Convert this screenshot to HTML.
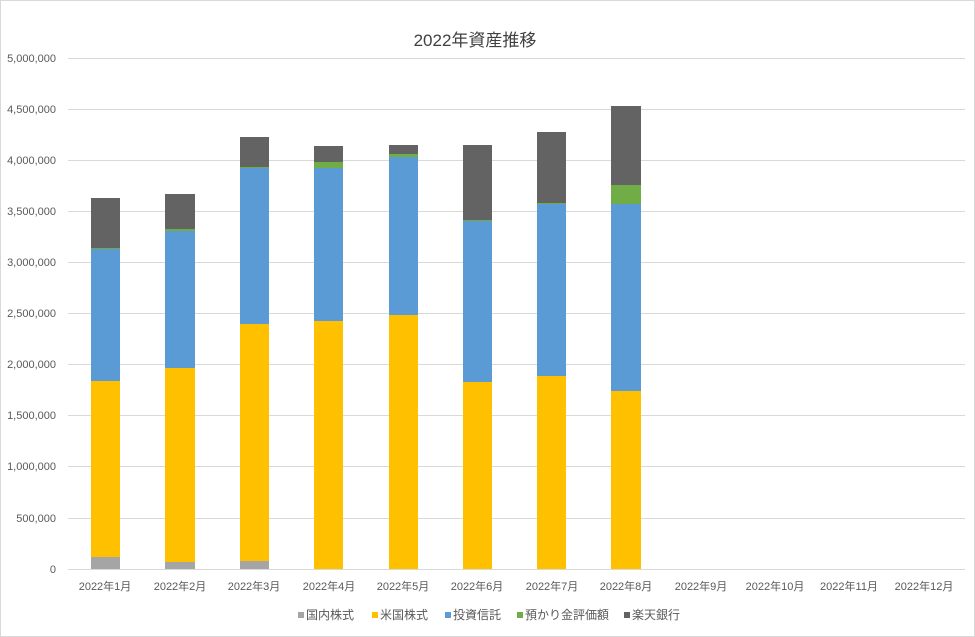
<!DOCTYPE html>
<html><head><meta charset="utf-8"><style>
body{margin:0;background:#fff;}
svg{display:block;font-family:"Liberation Sans","Noto Sans CJK JP",sans-serif;}
</style></head><body>
<svg width="975" height="637" viewBox="0 0 975 637">
<rect x="0.5" y="0.5" width="974" height="636" fill="#fff" stroke="#d9d9d9"/>
<text x="475" y="46" font-size="17" fill="#404040" text-anchor="middle">2022年資産推移</text>
<g stroke="#d9d9d9" stroke-width="1">
<line x1="68" x2="965" y1="58.5" y2="58.5"/><line x1="68" x2="965" y1="109.5" y2="109.5"/>
<line x1="68" x2="965" y1="160.5" y2="160.5"/><line x1="68" x2="965" y1="211.5" y2="211.5"/>
<line x1="68" x2="965" y1="262.5" y2="262.5"/><line x1="68" x2="965" y1="313.5" y2="313.5"/>
<line x1="68" x2="965" y1="364.5" y2="364.5"/><line x1="68" x2="965" y1="415.5" y2="415.5"/>
<line x1="68" x2="965" y1="466.5" y2="466.5"/><line x1="68" x2="965" y1="518.5" y2="518.5"/>
<line x1="68" x2="965" y1="569.5" y2="569.5"/>
</g>
<g font-size="11" fill="#595959" text-anchor="end">
<text x="56" y="62">5,000,000</text><text x="56" y="113">4,500,000</text><text x="56" y="164">4,000,000</text>
<text x="56" y="215">3,500,000</text><text x="56" y="266">3,000,000</text><text x="56" y="317">2,500,000</text>
<text x="56" y="368">2,000,000</text><text x="56" y="419">1,500,000</text><text x="56" y="470">1,000,000</text>
<text x="56" y="522">500,000</text><text x="56" y="573">0</text>
</g>
<g>
<!-- bar1 -->
<rect x="91" y="557" width="29" height="12" fill="#a5a5a5"/><rect x="91" y="381" width="29" height="176" fill="#ffc000"/><rect x="91" y="249" width="29" height="132" fill="#5b9bd5"/><rect x="91" y="248" width="29" height="1" fill="#70ad47"/><rect x="91" y="198" width="29" height="50" fill="#636363"/>
<!-- bar2 -->
<rect x="165" y="562" width="30" height="7" fill="#a5a5a5"/><rect x="165" y="368" width="30" height="194" fill="#ffc000"/><rect x="165" y="231" width="30" height="137" fill="#5b9bd5"/><rect x="165" y="229" width="30" height="2" fill="#70ad47"/><rect x="165" y="194" width="30" height="35" fill="#636363"/>
<!-- bar3 -->
<rect x="240" y="561" width="29" height="8" fill="#a5a5a5"/><rect x="240" y="324" width="29" height="237" fill="#ffc000"/><rect x="240" y="168" width="29" height="156" fill="#5b9bd5"/><rect x="240" y="167" width="29" height="1" fill="#70ad47"/><rect x="240" y="137" width="29" height="30" fill="#636363"/>
<!-- bar4 -->
<rect x="314" y="321" width="29" height="248" fill="#ffc000"/><rect x="314" y="168" width="29" height="153" fill="#5b9bd5"/><rect x="314" y="162" width="29" height="6" fill="#70ad47"/><rect x="314" y="146" width="29" height="16" fill="#636363"/>
<!-- bar5 -->
<rect x="389" y="315" width="29" height="254" fill="#ffc000"/><rect x="389" y="157" width="29" height="158" fill="#5b9bd5"/><rect x="389" y="154" width="29" height="3" fill="#70ad47"/><rect x="389" y="145" width="29" height="9" fill="#636363"/>
<!-- bar6 -->
<rect x="463" y="382" width="29" height="187" fill="#ffc000"/><rect x="463" y="221" width="29" height="161" fill="#5b9bd5"/><rect x="463" y="220" width="29" height="1" fill="#70ad47"/><rect x="463" y="145" width="29" height="75" fill="#636363"/>
<!-- bar7 -->
<rect x="537" y="376" width="29" height="193" fill="#ffc000"/><rect x="537" y="204" width="29" height="172" fill="#5b9bd5"/><rect x="537" y="203" width="29" height="1" fill="#70ad47"/><rect x="537" y="132" width="29" height="71" fill="#636363"/>
<!-- bar8 -->
<rect x="611" y="391" width="30" height="178" fill="#ffc000"/><rect x="611" y="204" width="30" height="187" fill="#5b9bd5"/><rect x="611" y="185" width="30" height="19" fill="#70ad47"/><rect x="611" y="106" width="30" height="79" fill="#636363"/>
</g>
<g font-size="11" fill="#595959" text-anchor="middle">
<text x="105" y="590">2022年1月</text><text x="180" y="590">2022年2月</text><text x="254" y="590">2022年3月</text>
<text x="329" y="590">2022年4月</text><text x="403" y="590">2022年5月</text><text x="477" y="590">2022年6月</text>
<text x="552" y="590">2022年7月</text><text x="626" y="590">2022年8月</text><text x="701" y="590">2022年9月</text>
<text x="775" y="590">2022年10月</text><text x="849" y="590">2022年11月</text><text x="924" y="590">2022年12月</text>
</g>
<g font-size="12" fill="#595959">
<rect x="298" y="612" width="6" height="6" fill="#a5a5a5"/><text x="306" y="619">国内株式</text>
<rect x="372" y="612" width="6" height="6" fill="#ffc000"/><text x="380" y="619">米国株式</text>
<rect x="445" y="612" width="6" height="6" fill="#5b9bd5"/><text x="453" y="619">投資信託</text>
<rect x="517" y="612" width="6" height="6" fill="#70ad47"/><text x="525" y="619">預かり金評価額</text>
<rect x="624" y="612" width="6" height="6" fill="#636363"/><text x="632" y="619">楽天銀行</text>
</g>
</svg>
</body></html>
